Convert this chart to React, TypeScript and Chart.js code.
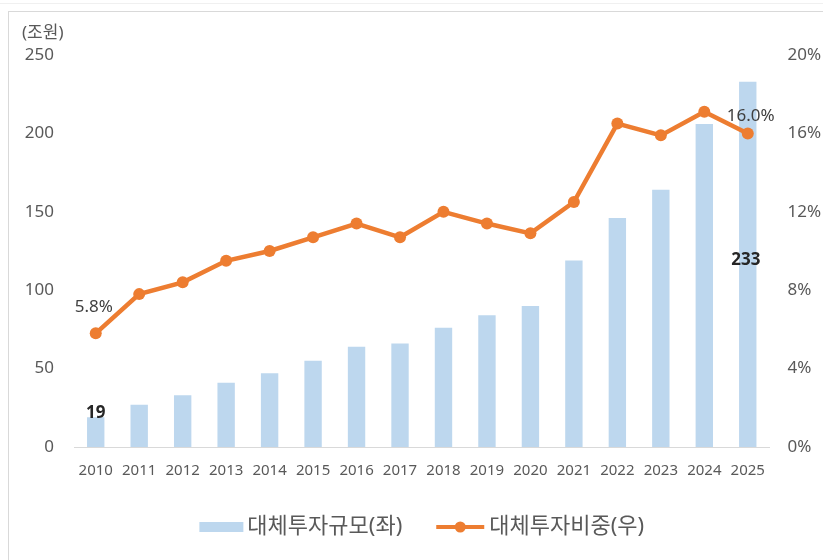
import React, { useEffect, useRef } from "react";
import { Chart, registerables } from "chart.js";

Chart.register(...registerables);

const years = ["2010", "2011", "2012", "2013", "2014", "2015", "2016", "2017", "2018", "2019", "2020", "2021", "2022", "2023", "2024", "2025"];
const altInvestSize = [19, 27, 33, 41, 47, 55, 64, 66, 76, 84, 90, 119, 146, 164, 206, 233];
const altInvestShare = [5.8, 7.8, 8.4, 9.5, 10.0, 10.7, 11.4, 10.7, 12.0, 11.4, 10.9, 12.5, 16.5, 15.9, 17.1, 16.0];
const sizeLabel = "대체투자규모(좌)";
const shareLabel = "대체투자비중(우)";
const unitLabel = "(조원)";
const leftTicks = [0, 50, 100, 150, 200, 250];
const rightTicks = [0, 4, 8, 12, 16, 20];

const FONT = "'Noto Sans', 'Noto Sans CJK KR', sans-serif";
const TEXT = "#595959";
const BAR = "#BDD7EE";
const LINE = "#ED7D31";

const labelPlugin = {
  id: "customLabels",
  afterDatasetsDraw(chart: any) {
    const ctx = chart.ctx;
    const barMeta = chart.getDatasetMeta(0);
    const lineMeta = chart.getDatasetMeta(1);
    const last = altInvestSize.length - 1;
    ctx.save();
    ctx.textAlign = "center";
    ctx.textBaseline = "middle";
    // bar value labels
    ctx.fillStyle = "#262626";
    ctx.font = `bold 17px ${FONT}`;
    const b0 = barMeta.data[0];
    ctx.fillText(String(altInvestSize[0]), b0.x, b0.y - 4);
    const bl = barMeta.data[last];
    ctx.fillText(String(altInvestSize[last]), bl.x - 2, (bl.y + bl.base) / 2 - 4);
    // line value labels
    ctx.fillStyle = "#404040";
    ctx.font = `17px ${FONT}`;
    const p0 = lineMeta.data[0];
    ctx.fillText(altInvestShare[0].toFixed(1) + "%", p0.x - 2, p0.y - 26);
    const pl = lineMeta.data[last];
    ctx.fillText(altInvestShare[last].toFixed(1) + "%", pl.x + 3, pl.y - 17);
    // unit label
    ctx.fillStyle = TEXT;
    ctx.textAlign = "left";
    ctx.fillText(unitLabel, 22, 33);

    // legend
    const area = chart.chartArea;
    const ly = 527;
    ctx.font = `22px ${FONT}`;
    const w1 = ctx.measureText(sizeLabel).width;
    const w2 = ctx.measureText(shareLabel).width;
    const sw1 = 44, g1 = 4, gap = 34, sw2 = 48, g2 = 5;
    const total = sw1 + g1 + w1 + gap + sw2 + g2 + w2;
    let x = (area.left + area.right) / 2 - total / 2;
    ctx.fillStyle = BAR;
    ctx.fillRect(x, ly - 5, sw1, 10);
    x += sw1 + g1;
    ctx.fillStyle = TEXT;
    ctx.textAlign = "left";
    ctx.fillText(sizeLabel, x, ly);
    x += w1 + gap;
    ctx.strokeStyle = LINE;
    ctx.lineWidth = 4;
    ctx.beginPath();
    ctx.moveTo(x, ly);
    ctx.lineTo(x + sw2, ly);
    ctx.stroke();
    ctx.fillStyle = LINE;
    ctx.beginPath();
    ctx.arc(x + sw2 / 2, ly, 5.5, 0, Math.PI * 2);
    ctx.fill();
    x += sw2 + g2;
    ctx.fillStyle = TEXT;
    ctx.fillText(shareLabel, x, ly);
    ctx.restore();
  },
};

export default function App() {
  const ref = useRef<HTMLCanvasElement | null>(null);
  useEffect(() => {
    if (!ref.current) return;
    const chart = new Chart(ref.current, {
      type: "bar",
      data: {
        labels: years,
        datasets: [
          {
            type: "bar",
            label: sizeLabel,
            data: altInvestSize,
            backgroundColor: BAR,
            borderWidth: 0,
            barPercentage: 0.4,
            categoryPercentage: 1,
            yAxisID: "y",
            order: 2,
          },
          {
            type: "line",
            label: shareLabel,
            data: altInvestShare,
            borderColor: LINE,
            backgroundColor: LINE,
            borderWidth: 4.5,
            pointRadius: 6,
            pointBackgroundColor: LINE,
            pointBorderWidth: 0,
            tension: 0,
            yAxisID: "y1",
            order: 1,
          } as any,
        ],
      },
      options: {
        responsive: true,
        maintainAspectRatio: false,
        animation: false,
        layout: { padding: { top: 55, left: 0, right: 0, bottom: 52.5 } },
        plugins: {
          tooltip: { enabled: false },
          legend: { display: false },
        },
        scales: {
          x: {
            grid: { display: false, drawTicks: false },
            border: { display: true, color: "#d9d9d9", width: 1 },
            ticks: { color: TEXT, font: { family: FONT, size: 15 }, padding: 15, maxRotation: 0, autoSkip: false },
            afterFit: (s: any) => { s.height = 60.5; },
          },
          y: {
            position: "left",
            min: 0,
            max: 250,
            afterBuildTicks: (s: any) => { s.ticks = leftTicks.map((v) => ({ value: v })); },
            grid: { display: false, drawTicks: false },
            border: { display: false },
            ticks: { color: TEXT, font: { family: FONT, size: 17 }, padding: 20 },
            afterFit: (s: any) => { s.width = 74; },
          },
          y1: {
            position: "right",
            min: 0,
            max: 20,
            afterBuildTicks: (s: any) => { s.ticks = rightTicks.map((v) => ({ value: v })); },
            grid: { display: false, drawTicks: false },
            border: { display: false },
            ticks: { color: TEXT, font: { family: FONT, size: 17 }, padding: 18, callback: (v: any) => v + "%" },
            afterFit: (s: any) => { s.width = 53.5; },
          },
        },
      },
      plugins: [labelPlugin],
    });
    return () => chart.destroy();
  }, []);

  return (
    <div style={{ position: "absolute", left: 0, top: 0, width: 823, height: 560, background: "#fff", overflow: "hidden" }}>
      <div style={{ position: "absolute", left: 0, top: 3, width: 823, height: 0, borderTop: "1px solid #f0f0f0" }} />
      <div style={{ position: "absolute", left: 8, top: 11, width: 830, height: 560, borderTop: "1px solid #d9d9d9", borderLeft: "1px solid #d9d9d9" }} />
      <canvas ref={ref} style={{ position: "absolute", left: 0, top: 0, width: 823, height: 560 }} />
    </div>
  );
}
